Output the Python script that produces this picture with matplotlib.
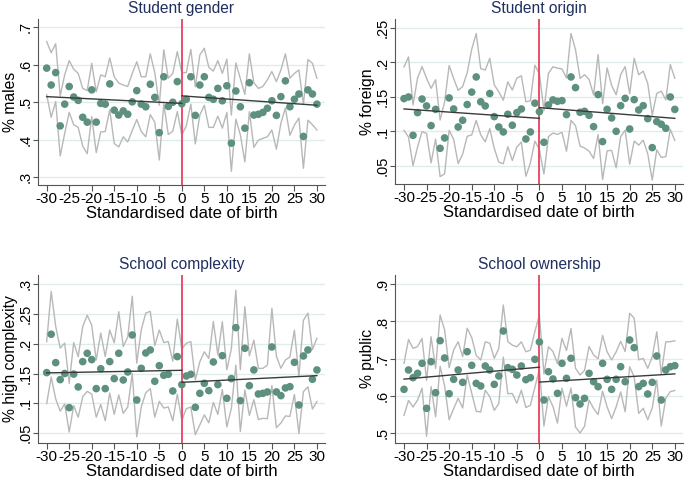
"""RD plots of student/school characteristics around the birth-date cutoff."""
import matplotlib
matplotlib.use("Agg")
import matplotlib.pyplot as plt  # noqa: E402
from matplotlib.ticker import FuncFormatter  # noqa: E402

plt.rcParams["font.family"] = ["Liberation Sans", "DejaVu Sans"]
plt.rcParams["axes.unicode_minus"] = False

days = list(range(-30, 31))

gender_pts = [.591, .546, .579, .437, .495, .542, .514, .505, .460, .447, .533, .447, .497, .495, .549, .479,
              .466, .477, .468, .501, .531, .495, .488, .548, .513, .419, .568, .489, .500, .555, .496,
              .508, .568, .465, .546, .568, .513, .508, .537, .504, .544, .391, .530, .488, .431, .552,
              .466, .468, .473, .484, .504, .465, .515, .557, .488, .508, .522, .409, .533, .522, .495]
gender_ci = [.071, .086, .077, .080, .078, .069, .074, .072, .077, .084, .071, .081, .076, .073, .069, .089,
             .085, .069, .074, .076, .077, .073, .080, .081, .066, .073, .072, .075, .077, .080, .083,
             .071, .073, .076, .080, .076, .080, .075, .074, .073, .071, .075, .075, .075, .090, .077,
             .086, .069, .069, .076, .078, .090, .071, .072, .076, .069, .064, .085, .081, .082, .069]
gender_fit = [0.515, 0.497, 0.517, 0.492]

origin_pts = [.1476, .150, .0944, .1273, .147, .137, .1085, .132, .0756, .0906, .1486, .1326, .1065, .1162,
              .139, .157, .179, .143, .137, .155, .1215, .1065, .0993, .1249, .109, .1273, .1326, .0891,
              .0993, .141, .1287,
              .0843, .1384, .1457, .1437, .1447, .1244, .179, .1635, .1278, .1292, .1234, .107, .1534,
              .0853, .132, .1196, .1002, .1374, .148, .1036, .1461, .1312, .1374, .1186, .0766, .1143,
              .1104, .1046, .150, .132]
origin_ci = [.046, .058, .044, .050, .047, .040, .054, .043, .041, .052, .047, .044, .053, .049, .046, .062,
             .063, .048, .052, .051, .046, .051, .046, .047, .051, .050, .048, .054, .045, .055, .055,
             .046, .046, .048, .048, .046, .053, .063, .055, .049, .053, .052, .046, .058, .055, .060,
             .047, .053, .045, .046, .051, .060, .051, .050, .051, .047, .041, .048, .041, .047, .045]
origin_fit = [0.1326, 0.119, 0.1345, 0.119]

complex_pts = [.1515, .216, .1683, .1397, .150, .0926, .149, .1274, .170, .184, .1733, .1246, .158, .1246,
               .170, .1414, .184, .1391, .1526, .2148, .1055, .1587, .1845, .1896, .1369, .1632, .147,
               .1487, .1206, .1784, .1313,
               .1458, .1487, .0932, .1167, .1335, .1212, .1694, .1313, .18, .1083, .1414, .2271, .1044,
               .1924, .1296, .156, .1156, .1167, .119, .1946, .119, .1128, .1257, .1279, .1688, .0971,
               .1795, .1896, .1403, .156]
complex_ci = [.052, .072, .061, .053, .051, .041, .053, .051, .059, .064, .058, .048, .060, .054, .053, .060,
              .070, .056, .059, .065, .062, .065, .067, .065, .060, .060, .055, .055, .050, .063, .060,
              .055, .055, .046, .053, .053, .054, .068, .050, .057, .048, .050, .063, .052, .070, .050,
              .050, .043, .042, .045, .065, .060, .046, .047, .050, .054, .048, .060, .062, .050, .053]
complex_fit = [0.151, 0.1554, 0.1352, 0.1464]

public_pts = [.6175, .6695, .6489, .6605, .6874, .5664, .6919, .6085, .7484, .7018, .6058, .6444, .6695,
              .6363, .7188, .6821, .6336, .6265, .6803, .6695, .6309, .6534, .7744, .6758, .6713, .656,
              .6803, .6435, .6489, .6982, .7448,
              .5888, .665, .6453, .6067, .6874, .6471, .7009, .5951, .578, .5933, .6605, .6381, .6247,
              .6874, .6444, .6175, .6444, .6785, .6381, .7502, .7296, .6247, .6336, .6049, .6363, .7072,
              .5888, .6695, .6785, .6812]
public_ci = [.070, .082, .079, .072, .067, .075, .067, .065, .069, .075, .070, .079, .076, .069, .063, .075,
             .075, .070, .065, .072, .070, .074, .070, .070, .065, .076, .065, .075, .074, .075, .073,
             .070, .067, .074, .080, .067, .075, .080, .079, .078, .075, .072, .072, .075, .075, .074,
             .079, .074, .068, .081, .072, .079, .072, .067, .069, .069, .065, .070, .076, .067, .067]
public_fit = [0.645, 0.677, 0.637, 0.659]

titles = ["Student gender", "Student origin", "School complexity", "School ownership"]
ylabels = ["% males", "% foreign", "% high complexity", "% public"]
yticks = [[.3, .4, .5, .6, .7], [.05, .1, .15, .2, .25],
          [.05, .1, .15, .2, .25, .3], [.5, .6, .7, .8, .9]]
ylims = [(0.2795, 0.722), (0.0239, 0.263), (0.0337, 0.3156), (0.474, 0.925)]
xticks = list(range(-30, 31, 5))

POINT = "#5e907e"
CI = "#b8b8b8"
FIT = "#3a3a3a"
CUT = "#e8506a"
GRID = "#dfecee"
NAVY = "#1f2f5f"


def fmt(v, _):
    s = f"{v:g}"
    return s.replace("0.", ".", 1) if s.startswith("0.") else s


def panel(ax, pts, ci, fit, title, ylabel, ticks, ylim):
    upper = [p + c for p, c in zip(pts, ci)]
    lower = [p - c for p, c in zip(pts, ci)]
    ax.plot(days, upper, color=CI, lw=1.0, zorder=2)
    ax.plot(days, lower, color=CI, lw=1.0, zorder=2)
    ax.axvline(0, color=CUT, lw=1.4, zorder=3)
    ax.scatter(days, pts, s=30, color=POINT, edgecolors="none", zorder=4)
    ax.plot([days[0], 0], fit[:2], color=FIT, lw=1.0, zorder=5)
    ax.plot([0, days[-1]], fit[2:], color=FIT, lw=1.0, zorder=5)

    ax.set_xlim(-32.0, 31.8)
    ax.set_ylim(*ylim)
    ax.set_xticks(xticks)
    ax.set_yticks(ticks)
    ax.yaxis.set_major_formatter(FuncFormatter(fmt))
    ax.grid(axis="y", color=GRID, lw=0.9, zorder=0)
    ax.set_axisbelow(True)
    for side in ("top", "right"):
        ax.spines[side].set_visible(False)
    for side in ("left", "bottom"):
        ax.spines[side].set_color("#555555")
        ax.spines[side].set_linewidth(0.8)
    ax.tick_params(axis="x", length=4.3, width=0.8, color="#555555", labelsize=11.0, pad=1.0)
    ax.tick_params(axis="y", length=3.7, width=0.8, color="#555555", labelsize=10.5, pad=0)
    for lab in ax.get_yticklabels():
        lab.set_rotation(90)
        lab.set_va("center")
    ax.set_xlabel("Standardised date of birth", fontsize=12.0, labelpad=0)
    ax.set_ylabel(ylabel, fontsize=11.3)
    ax.yaxis.set_label_coords(-0.070, 0.5)
    ax.set_title(title, fontsize=11.2, color=NAVY, pad=4)


def main():
    fig = plt.figure(figsize=(6.85, 4.79), dpi=100)
    boxes = [(0.055, 0.6138, 0.4195, 0.3466), (0.5766, 0.6159, 0.4204, 0.3445),
             (0.055, 0.0758, 0.4195, 0.3501), (0.5766, 0.0758, 0.4204, 0.3501)]
    data = [(gender_pts, gender_ci, gender_fit), (origin_pts, origin_ci, origin_fit),
            (complex_pts, complex_ci, complex_fit), (public_pts, public_ci, public_fit)]
    for i, box in enumerate(boxes):
        ax = fig.add_axes(box)
        pts, ci, fit = data[i]
        panel(ax, pts, ci, fit, titles[i], ylabels[i], yticks[i], ylims[i])
    fig.savefig("out.png", dpi=100)
    plt.close(fig)


if __name__ == "__main__":
    main()
